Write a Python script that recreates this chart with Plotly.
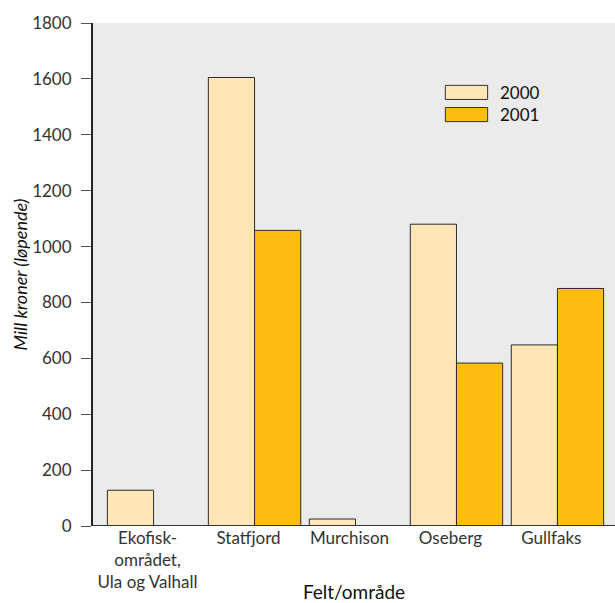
import plotly.graph_objects as go

# Investment per field/area, million NOK (current prices)
fields = ["Ekofisk-<br>området,<br>Ula og Valhall", "Statfjord", "Murchison", "Oseberg", "Gullfaks"]
values_2000 = [128, 1605, 25, 1080, 648]
values_2001 = [0, 1058, 0, 583, 850]
y_ticks = [0, 200, 400, 600, 800, 1000, 1200, 1400, 1600, 1800]

color_2000 = "#FEE6B6"
color_2001 = "#FCBC14"
outline = "#2b2b2b"
font_family = "Lato, 'Open Sans', sans-serif"

positions = list(range(len(fields)))

fig = go.Figure()
fig.add_trace(go.Bar(
    x=positions, y=values_2000, name="2000",
    marker=dict(color=color_2000, line=dict(color=outline, width=1)),
))
fig.add_trace(go.Bar(
    x=positions, y=values_2001, name="2001",
    marker=dict(color=color_2001, line=dict(color=outline, width=1)),
))

fig.update_layout(
    width=615, height=603,
    margin=dict(l=93, r=0, t=23, b=77),
    paper_bgcolor="white",
    plot_bgcolor="#EBEBEB",
    barmode="group",
    bargap=0.085,
    bargroupgap=0,
    showlegend=False,
    font=dict(family=font_family, color="#333333", size=16),
    xaxis=dict(
        range=[-0.6, 4.57],
        tickmode="array",
        tickvals=[p - 0.06 for p in positions],
        ticktext=fields,
        ticks="",
        showgrid=False,
        zeroline=False,
        showline=False,
        automargin=False,
        tickfont=dict(size=17, color="#333333"),
        title=dict(text="Felt/område", font=dict(size=19, color="#111111"), standoff=4),
    ),
    yaxis=dict(
        range=[0, 1800],
        tickmode="array",
        tickvals=y_ticks,
        ticks="outside",
        ticklen=10,
        tickwidth=1,
        tickcolor="#555555",
        ticklabelstandoff=6,
        showgrid=False,
        zeroline=False,
        showline=True,
        linecolor="#222222",
        linewidth=2,
        automargin=False,
        tickfont=dict(size=17, color="#333333"),
        title=dict(text="<i>Mill kroner (løpende)</i>", font=dict(size=18, color="#111111"), standoff=0),
    ),
)

# Baseline along the value axis zero
fig.add_shape(type="line", xref="paper", yref="y", x0=0, x1=1, y0=0, y1=0,
              line=dict(color="#333333", width=2))

# Legend with wide swatches inside the plot area
legend_items = [("2000", color_2000, 0.862), ("2001", color_2001, 0.818)]
for label, col, yc in legend_items:
    fig.add_shape(type="rect", xref="paper", yref="paper",
                  x0=0.675, x1=0.756, y0=yc - 0.014, y1=yc + 0.014,
                  fillcolor=col, line=dict(color="#333333", width=1))
    fig.add_annotation(xref="paper", yref="paper", x=0.775, y=yc, text=label,
                       showarrow=False, xanchor="left", yanchor="middle",
                       font=dict(size=17, color="#111111"))

fig.write_html("out.html")
